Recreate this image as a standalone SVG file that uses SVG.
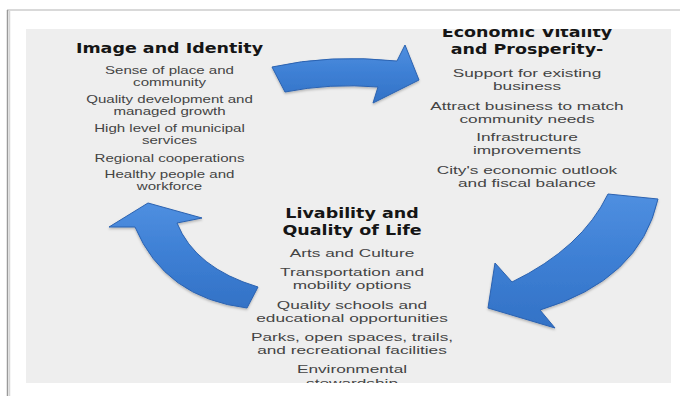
<svg xmlns="http://www.w3.org/2000/svg" width="680" height="396" viewBox="0 0 680 396">
<defs>
<style>
.title{font-family:"DejaVu Sans",Verdana,sans-serif;font-weight:bold;font-size:14px;fill:#151515;text-anchor:middle}
.item{font-family:"Liberation Sans",Arial,sans-serif;fill:#444444;text-anchor:middle}
.l{font-size:10.4px}
.r{font-size:11.5px}
.b{font-size:11.5px}
.arrow{fill:url(#blue);stroke:#2b62b0;stroke-width:1;stroke-linejoin:round;filter:url(#sh)}
</style>
<linearGradient id="blue" x1="0" y1="0" x2="0" y2="1">
<stop offset="0" stop-color="#4f8fe0"/>
<stop offset="0.5" stop-color="#3d7fd4"/>
<stop offset="1" stop-color="#3372c6"/>
</linearGradient>
<filter id="sh" x="-10%" y="-10%" width="120%" height="130%">
<feDropShadow dx="0" dy="1.5" stdDeviation="1.2" flood-color="#000" flood-opacity="0.25"/>
</filter>
<clipPath id="panelClip"><rect x="26" y="29" width="645" height="354"/></clipPath>
</defs>
<rect x="0" y="0" width="680" height="396" fill="#ffffff"/>
<line x1="7" y1="10" x2="680" y2="10" stroke="#b4b4b4" stroke-width="1.2"/>
<line x1="7.5" y1="10" x2="7.5" y2="396" stroke="#9a9a9a" stroke-width="1.5"/>
<line x1="9.5" y1="11" x2="9.5" y2="396" stroke="#d6d6d6" stroke-width="1.5"/>
<rect id="panel" x="26" y="29" width="645" height="354" fill="#eeeeee"/>

<g id="connectors">
<path id="arrow-top" class="arrow" d="M272,67 Q330,54 397,61 L405,45 L419,80 L373,103 L378,87 Q330,83 285,92 Z"/>
<path id="arrow-right" class="arrow" d="M608,194 L658,199 Q640,280 540,310 L555,328 L488,308 L495,263 L512,282 Q582,248 608,194 Z"/>
<path id="arrow-left" class="arrow" d="M148,203 L202,218 L177,223 Q195,268 258,287 L247,308 Q165,298 135,227 L109,227 Z"/>
</g>

<g id="image-identity">
<text class="title" transform="translate(169.5 0) scale(1.25 1)" x="0" y="53.3">Image and Identity</text>
<g transform="translate(169.5 0) scale(1.45 1)">
<text class="item l" x="0" y="74">Sense of place and</text>
<text class="item l" x="0" y="86.5">community</text>
<text class="item l" x="0" y="103.3">Quality development and</text>
<text class="item l" x="0" y="115.5">managed growth</text>
<text class="item l" x="0" y="131.7">High level of municipal</text>
<text class="item l" x="0" y="144.3">services</text>
<text class="item l" x="0" y="162.3">Regional cooperations</text>
<text class="item l" x="0" y="178.3">Healthy people and</text>
<text class="item l" x="0" y="190.5">workforce</text>
</g>
</g>

<g id="economic-vitality" clip-path="url(#panelClip)">
<g transform="translate(527 0) scale(1.25 1)">
<text class="title" x="0" y="37.3">Economic Vitality</text>
<text class="title" x="0" y="54.5">and Prosperity-</text>
</g>
<g transform="translate(527 0) scale(1.5 1)">
<text class="item r" x="0" y="77">Support for existing</text>
<text class="item r" x="0" y="90">business</text>
<text class="item r" x="0" y="110">Attract business to match</text>
<text class="item r" x="0" y="123">community needs</text>
<text class="item r" x="0" y="140.7">Infrastructure</text>
<text class="item r" x="0" y="154">improvements</text>
<text class="item r" x="0" y="174">City's economic outlook</text>
<text class="item r" x="0" y="187">and fiscal balance</text>
</g>
</g>

<g id="livability" clip-path="url(#panelClip)">
<g transform="translate(352 0) scale(1.25 1)">
<text class="title" x="0" y="218.3">Livability and</text>
<text class="title" x="0" y="235.5">Quality of Life</text>
</g>
<g transform="translate(352 0) scale(1.5 1)">
<text class="item b" x="0" y="256.7">Arts and Culture</text>
<text class="item b" x="0" y="276">Transportation and</text>
<text class="item b" x="0" y="289.3">mobility options</text>
<text class="item b" x="0" y="309">Quality schools and</text>
<text class="item b" x="0" y="322">educational opportunities</text>
<text class="item b" x="0" y="340.7">Parks, open spaces, trails,</text>
<text class="item b" x="0" y="354">and recreational facilities</text>
<text class="item b" x="0" y="373.3">Environmental</text>
<text class="item b" x="0" y="386.7">stewardship</text>
</g>
</g>
</svg>
